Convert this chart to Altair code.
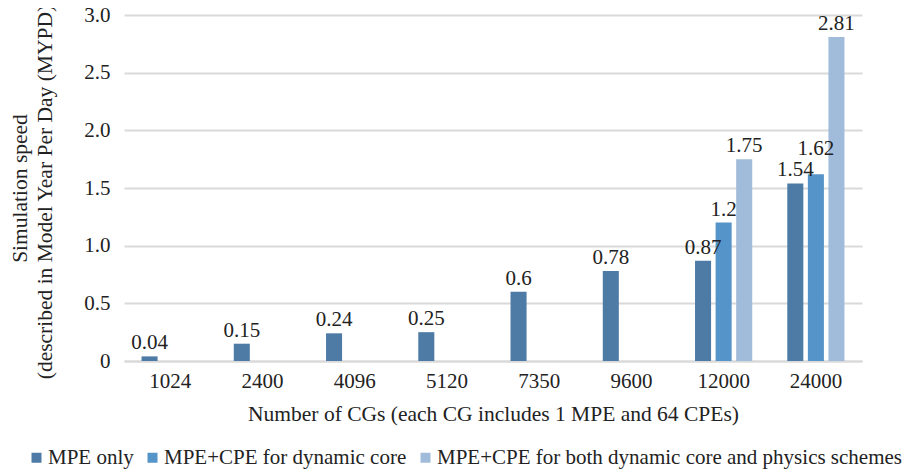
import altair as alt
import pandas as pd

categories = ["1024", "2400", "4096", "5120", "7350", "9600", "12000", "24000"]
series_names = ["MPE only", "MPE+CPE for dynamic core",
                "MPE+CPE for both dynamic core and physics schemes"]
mpe_only = [0.04, 0.15, 0.24, 0.25, 0.6, 0.78, 0.87, 1.54]
mpe_cpe_dyn = [None, None, None, None, None, None, 1.2, 1.62]
mpe_cpe_both = [None, None, None, None, None, None, 1.75, 2.81]
colors = ["#4e7ba6", "#5494c9", "#a1bcdb"]

rows = []
for s, vals in zip(series_names, [mpe_only, mpe_cpe_dyn, mpe_cpe_both]):
    for c, v in zip(categories, vals):
        if v is not None:
            rows.append({"cg": c, "series": s, "value": v, "label": f"{v:g}",
                         "raised": (c == "24000" and s == series_names[1])})
df = pd.DataFrame(rows)

FONT = "'Liberation Serif', 'Times New Roman', Times, serif"
FS = 21

x = alt.X("cg:N", sort=categories,
          scale=alt.Scale(paddingInner=0.38, paddingOuter=0.19),
          axis=alt.Axis(title="Number of CGs (each CG includes 1 MPE and 64 CPEs)",
                        labelAngle=0, ticks=False, labelPadding=9,
                        titlePadding=12, domainColor="#d9d9d9", domainWidth=2))
xo = alt.XOffset("series:N", sort=series_names,
                 scale=alt.Scale(domain=series_names, paddingInner=0.22, paddingOuter=0))
y = alt.Y("value:Q",
          scale=alt.Scale(domain=[0, 3.0], nice=False),
          axis=alt.Axis(values=[0, 0.5, 1.0, 1.5, 2.0, 2.5, 3.0],
                        labelExpr="datum.value == 0 ? '0' : format(datum.value, '.1f')",
                        title=["Simulation speed", "(described in Model Year Per Day (MYPD))"],
                        ticks=False, domain=False, labelPadding=14, titlePadding=27,
                        gridColor="#d9d9d9", gridWidth=2, titleLineHeight=25))

color = alt.Color("series:N", sort=series_names,
                  scale=alt.Scale(domain=series_names, range=colors),
                  legend=alt.Legend(title=None, orient="none", direction="horizontal",
                                    legendX=-98, legendY=432, symbolType="square",
                                    symbolSize=100, symbolStrokeWidth=0,
                                    labelFontSize=FS, labelFont=FONT, labelColor="#222",
                                    labelOffset=1, columnPadding=8, labelLimit=700))

bars = alt.Chart(df).mark_bar(stroke="white", strokeWidth=0).encode(
    x=x, xOffset=xo, y=y, color=color)

text_enc = dict(
    x=alt.X("cg:N", sort=categories),
    xOffset=alt.XOffset("series:N", sort=series_names),
    y="value:Q", text="label:N")
text = alt.Chart(df).transform_filter("!datum.raised").mark_text(
    baseline="bottom", dy=-3, fontSize=FS, font=FONT, color="#222").encode(**text_enc)
text_raised = alt.Chart(df).transform_filter("datum.raised").mark_text(
    baseline="bottom", dy=-15, fontSize=FS, font=FONT, color="#222").encode(**text_enc)

chart = alt.layer(bars, text, text_raised).properties(
    width=738, height=346,
    autosize=alt.AutoSizeParams(type="none"),
    padding={"left": 116, "top": 7, "right": 42, "bottom": 114},
).configure_view(stroke=None).configure_axis(
    labelFont=FONT, titleFont=FONT, labelFontSize=FS, titleFontSize=21.5,
    labelColor="#222", titleColor="#222", titleFontWeight="normal"
).configure_axisX(grid=False)

chart.save("out.html", embed_options={"renderer": "svg", "actions": False})
